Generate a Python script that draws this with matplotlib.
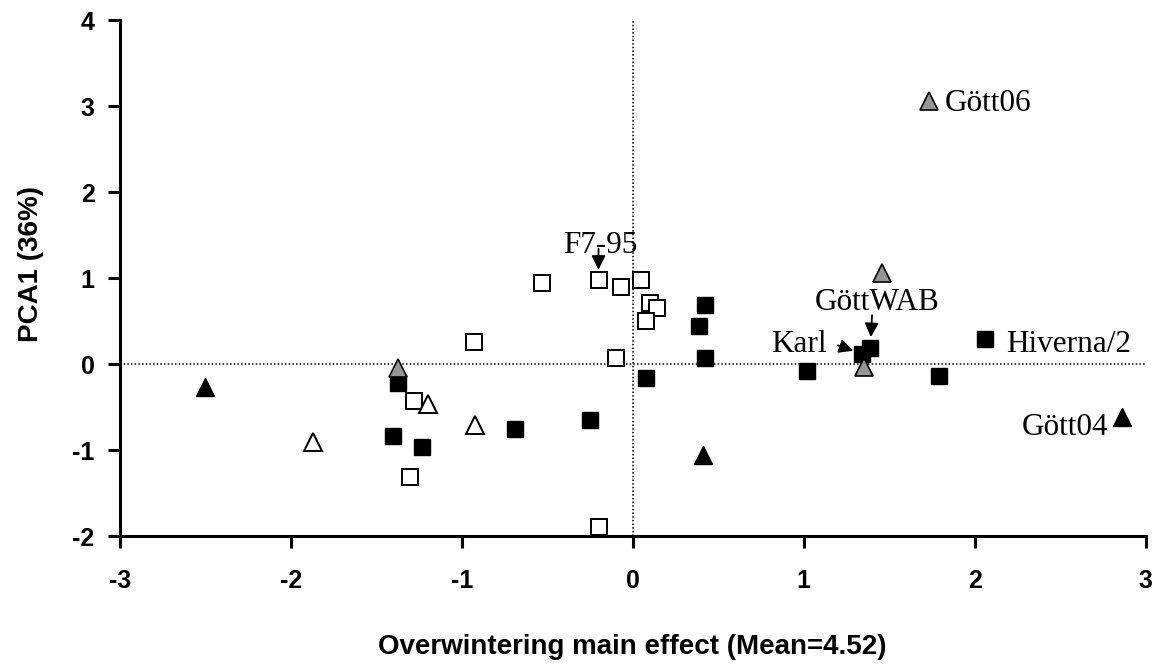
import matplotlib.pyplot as plt

plt.rcParams['axes.unicode_minus'] = False

# Genotype scores: overwintering main effect (x) vs. first principal component (y)
black_sq_x = [-1.37, -1.40, -1.23, -0.69, -0.25, 0.08, 0.42, 0.39, 0.42, 1.02, 1.34, 1.39, 1.79, 2.06]
black_sq_y = [-0.22, -0.84, -0.96, -0.76, -0.65, -0.16, 0.69, 0.44, 0.07, -0.08, 0.12, 0.19, -0.14, 0.29]

open_sq_x = [-0.53, -0.20, -0.07, 0.05, 0.10, 0.14, 0.08, -0.93, -0.10, -1.28, -1.30, -0.20]
open_sq_y = [0.94, 0.98, 0.89, 0.98, 0.71, 0.65, 0.50, 0.26, 0.07, -0.43, -1.31, -1.89]

black_tri_x = [-2.50, 0.41, 2.86]
black_tri_y = [-0.27, -1.06, -0.62]

grey_tri_x = [-1.37, 1.73, 1.46, 1.35]
grey_tri_y = [-0.05, 3.06, 1.06, -0.04]

open_tri_x = [-1.20, -1.87, -0.92]
open_tri_y = [-0.46, -0.91, -0.71]

x_ticks = [-3, -2, -1, 0, 1, 2, 3]
y_ticks = [-2, -1, 0, 1, 2, 3, 4]

# name, series, index, text offset (pt), ha, arrow start offset (pt), arrow shrink (pt)
labels = [
    ('F7-95', 'open_sq', 1, (1, 19), 'center', (0, 22.3), 7.2),
    ('Gött06', 'grey_tri', 1, (12, -7.2), 'left', None, 0),
    ('GöttWAB', 'black_sq', 11, (4.8, 27.4), 'center', (1.2, 23.3), 7.6),
    ('Karl', 'black_sq', 10, (-25.2, 1.2), 'right', (-17.3, 6.0), 6.5),
    ('Hiverna/2', 'black_sq', 13, (15.6, -9.4), 'left', None, 0),
    ('Gött04', 'black_tri', 2, (-9.6, -12.5), 'right', None, 0),
]

series = {
    'black_sq': (black_sq_x, black_sq_y),
    'open_sq': (open_sq_x, open_sq_y),
    'black_tri': (black_tri_x, black_tri_y),
    'grey_tri': (grey_tri_x, grey_tri_y),
    'open_tri': (open_tri_x, open_tri_y),
}

fig = plt.figure(figsize=(11.57, 6.67), dpi=100)
ax = fig.add_axes([0.1035, 0.1964, 0.8867, 0.7736])

ax.axhline(0, color='black', lw=1.1, linestyle=(0, (1, 1.4)), zorder=1)
ax.axvline(0, color='black', lw=1.1, linestyle=(0, (1, 1.4)), zorder=1)

ax.plot(open_sq_x, open_sq_y, 's', ms=12, mfc='white', mec='black', mew=1.4, zorder=3)
ax.plot(black_sq_x, black_sq_y, 's', ms=12, mfc='black', mec='black', mew=1.0, zorder=3)
ax.plot(open_tri_x, open_tri_y, '^', ms=13, mfc='white', mec='black', mew=1.4, zorder=4)
ax.plot(black_tri_x, black_tri_y, '^', ms=13, mfc='black', mec='black', mew=1.0, zorder=4)
ax.plot(grey_tri_x, grey_tri_y, '^', ms=13, mfc='#969696', mec='black', mew=1.2, zorder=4)

for name, key, i, txt_off, ha, arr_off, shrink in labels:
    px = series[key][0][i]
    py = series[key][1][i]
    ax.annotate(name, xy=(px, py), xytext=txt_off, textcoords='offset points',
                ha=ha, va='baseline', fontsize=22.5, family='Liberation Serif', zorder=5)
    if arr_off is not None:
        ax.annotate('', xy=(px, py), xytext=arr_off, textcoords='offset points',
                    arrowprops=dict(arrowstyle='-|>,head_length=0.6,head_width=0.3',
                                    color='black', lw=1.3, shrinkA=0, shrinkB=shrink,
                                    mutation_scale=14), zorder=5)

ax.set_xlim(-3, 3)
ax.set_ylim(-2, 4)
ax.set_xticks(x_ticks)
ax.set_yticks(y_ticks)

for side in ['top', 'right']:
    ax.spines[side].set_visible(False)
for side in ['left', 'bottom']:
    ax.spines[side].set_linewidth(2.2)

ax.tick_params(axis='x', direction='out', length=8.5, width=2.2, pad=15,
               labelsize=18)
ax.tick_params(axis='y', direction='out', length=8.5, width=2.2, pad=9.5,
               labelsize=18)
for lab in ax.get_xticklabels() + ax.get_yticklabels():
    lab.set_fontfamily('Liberation Sans')
    lab.set_fontweight('bold')

ax.set_xlabel('Overwintering main effect (Mean=4.52)', fontsize=20,
              fontweight='bold', family='Liberation Sans')
ax.set_ylabel('PCA1 (36%)', fontsize=20, fontweight='bold', family='Liberation Sans')
ax.xaxis.set_label_coords(0.5, -0.19)
ax.yaxis.set_label_coords(-0.074, 0.527)

fig.savefig('out.png', dpi=100)
